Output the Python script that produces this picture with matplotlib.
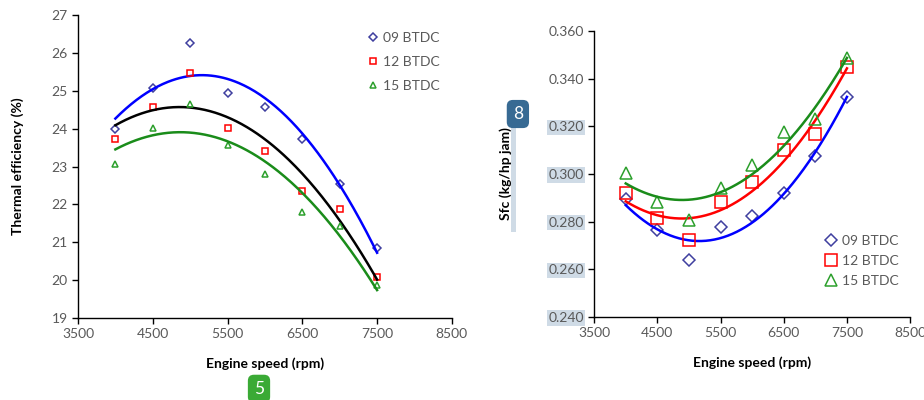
import numpy as np
import matplotlib.pyplot as plt
from matplotlib.patches import Rectangle

################################################# Data
speed = [4000, 4500, 5000, 5500, 6000, 6500, 7000, 7500]
labels = ["09 BTDC", "12 BTDC", "15 BTDC"]

# thermal efficiency (%)
te_09 = [23.98, 25.08, 26.25, 24.93, 24.56, 23.73, 22.53, 20.86]
te_12 = [23.73, 24.58, 25.48, 24.01, 23.41, 22.36, 21.89, 20.09]
te_15 = [23.06, 24.01, 24.65, 23.56, 22.81, 21.79, 21.44, 19.86]

# sfc (kg/hp jam)
sfc_09 = [0.2894, 0.2763, 0.2640, 0.2779, 0.2822, 0.2922, 0.3076, 0.3322]
sfc_12 = [0.2920, 0.2816, 0.2721, 0.2883, 0.2966, 0.3101, 0.3167, 0.3451]
sfc_15 = [0.3003, 0.2882, 0.2808, 0.2941, 0.3038, 0.3178, 0.3230, 0.3485]

################################################# Style
font = "Lato"
plt.rcParams["font.family"] = [font, "DejaVu Sans"]
tick_col = "#595959"
mk_col = ["#3f3f9f", "#ff0000", "#2ca02c"]
markers = ["D", "s", "^"]

fig = plt.figure(figsize=(9.24, 4), dpi=100)
ax1 = fig.add_axes([0.0844, 0.205, 0.4046, 0.7575])
ax2 = fig.add_axes([0.643, 0.2075, 0.342, 0.715])

xs = np.linspace(4000, 7500, 200)


def style(ax):
    for s in ["top", "right"]:
        ax.spines[s].set_visible(False)
    for s in ["left", "bottom"]:
        ax.spines[s].set_color("black")
        ax.spines[s].set_linewidth(1.0)
    ax.tick_params(axis="both", direction="out", length=4, width=1,
                   colors="black", labelcolor=tick_col, labelsize=10)
    ax.set_xlim(3500, 8500)
    ax.set_xticks([3500, 4500, 5500, 6500, 7500, 8500])
    ax.set_xlabel("Engine speed (rpm)", fontsize=10, fontweight="bold", labelpad=12)


################################################# Plot thermal efficiency
te = [te_09, te_12, te_15]
te_fit_col = ["#0000ff", "#000000", "#1a8c1a"]
for i in range(3):
    ms = 4.2 if markers[i] == "D" else 5
    ax1.plot(speed, te[i], linestyle="none", marker=markers[i], ms=ms,
             mfc="none", mec=mk_col[i], mew=1.1, label=labels[i])
    p = np.polyfit(speed, te[i], 2)
    ax1.plot(xs, np.polyval(p, xs), color=te_fit_col[i], lw=1.8)
style(ax1)
ax1.set_ylim(19, 27)
ax1.set_yticks(range(19, 28))
ax1.set_ylabel("Thermal efficiency (%)", fontsize=10, fontweight="bold", labelpad=20)
ax1.legend(loc="upper right", bbox_to_anchor=(1.0, 0.985), frameon=False,
           fontsize=10, labelcolor=tick_col, handletextpad=0.2,
           handlelength=1.0, labelspacing=0.85)

################################################# Plot sfc
sfc = [sfc_09, sfc_12, sfc_15]
sfc_fit_col = ["#0000ff", "#ff0000", "#1a8c1a"]
for i in range(3):
    ms = 6.5 if markers[i] == "D" else 8
    ax2.plot(speed, sfc[i], linestyle="none", marker=markers[i], ms=ms,
             mfc="none", mec=mk_col[i], mew=1.1, label=labels[i])
    p = np.polyfit(speed, sfc[i], 2)
    ax2.plot(xs, np.polyval(p, xs), color=sfc_fit_col[i], lw=1.8)
style(ax2)
ax2.set_ylim(0.24, 0.36)
ax2.set_yticks(np.arange(0.24, 0.3601, 0.02))
ax2.set_yticklabels(["%.3f" % v for v in np.arange(0.24, 0.3601, 0.02)])
ax2.set_ylabel("Sfc (kg/hp jam)", fontsize=10, fontweight="bold", labelpad=26)
ax2.legend(loc="lower right", bbox_to_anchor=(1.005, 0.06), frameon=False,
           fontsize=10, labelcolor=tick_col, handletextpad=0.3,
           handlelength=1.0, labelspacing=0.6)

# highlighted tick labels
for lab in ax2.get_yticklabels()[:5]:
    lab.set_bbox(dict(facecolor="#cfdbe6", edgecolor="none", pad=1.2))
fig.add_artist(Rectangle((0.5525, 0.42), 0.006, 0.265, transform=fig.transFigure,
                         facecolor="#cfdbe6", edgecolor="none", zorder=-1))

# badges
fig.text(0.2803, 0.028, "5", color="white", fontsize=12.5, ha="center", va="center",
         bbox=dict(boxstyle="round,pad=0.35", facecolor="#3aaa35", edgecolor="none"))
fig.text(0.5605, 0.715, "8", color="white", fontsize=12.5, ha="center", va="center",
         bbox=dict(boxstyle="round,pad=0.35", facecolor="#376a93", edgecolor="none"))

fig.savefig("out.png", dpi=100)
